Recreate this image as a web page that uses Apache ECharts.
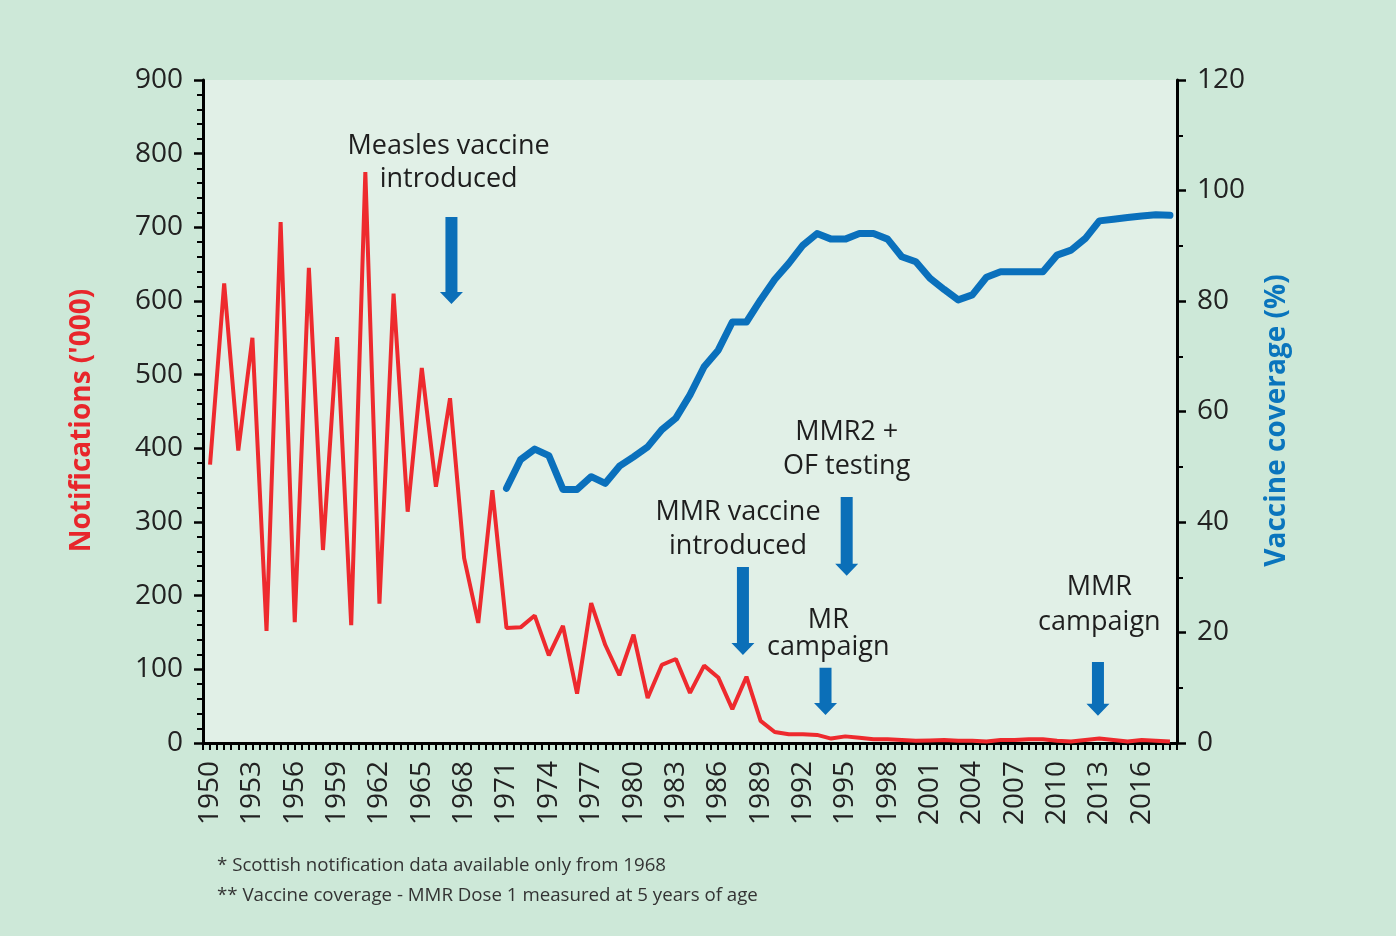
<!DOCTYPE html>
<html>
<head>
<meta charset="utf-8">
<script src="https://cdn.jsdelivr.net/npm/echarts@6/dist/echarts.min.js"></script>
<style>
  html, body { margin: 0; padding: 0; background: #cde8d8; }
  #main { width: 1396px; height: 936px; }
</style>
</head>
<body>
<div id="main"></div>
<script>
// years 1950..2018
const years = [];
for (let y = 1950; y <= 2018; y++) years.push(y);
const tickYears = years.filter(y => (y - 1950) % 3 === 0 && y <= 2016);

// notifications ('000), 1950..2018
const notifications = [
  378, 624, 397, 550, 152, 707, 164, 645, 262, 551,
  160, 775, 189, 610, 314, 509, 348, 468, 251, 163,
  343, 156, 157, 173, 119, 159, 67, 190, 133, 92,
  147, 61, 106, 114, 68, 105, 89, 46, 90, 30,
  15, 12, 12, 11, 6, 9, 7, 5, 5, 4,
  3, 3.5, 4, 3, 3, 2, 4, 4, 5, 5,
  3, 2, 4, 6, 4, 2, 4, 3, 2
];

// vaccine coverage (%), 1971..2018
const coverageYears = years.filter(y => y >= 1971);
const coverage = [
  46.1, 51.3, 53.2, 52.0, 45.9, 45.9, 48.2, 47.0, 50.1, 51.8,
  53.6, 56.7, 58.8, 63.0, 68.1, 71.1, 76.2, 76.2, 80.2, 83.9,
  86.8, 90.1, 92.2, 91.2, 91.2, 92.2, 92.2, 91.2, 88.0, 87.1,
  84.1, 82.1, 80.2, 81.1, 84.3, 85.3, 85.3, 85.3, 85.3, 88.3,
  89.2, 91.3, 94.5, 94.8, 95.1, 95.4, 95.6, 95.5
];

// annotations: arrow x (year), arrow top / tip (left axis units), text
const annoText = [
  'Measles vaccine\nintroduced',
  'MMR vaccine\nintroduced',
  'MMR2 +\nOF testing',
  'MR\ncampaign',
  'MMR\ncampaign'
];
const annoX = [1967.1, 1987.75, 1995.1, 1993.6, 2012.9];
const annoTop = [714, 239, 334, 102, 110];
const annoTip = [596, 119.5, 227, 38, 37];
const annoTextX = [1966.9, 1987.4, 1995.1, 1993.8, 2013.0];
const annoTextY = [787, 290.5, 398, 148.6, 188];
const annoLineH = [33, 34, 34, 27, 35];

const chart = echarts.init(document.getElementById('main'));
const FONT = '"Open Sans", "Noto Sans", sans-serif';

function renderArrow(params, api) {
  const i = params.dataIndex;
  const top = api.coord([api.value(0), api.value(1)]);
  const tip = api.coord([api.value(0), api.value(2)]);
  const t = api.coord([api.value(3), api.value(4)]);
  const cx = top[0];
  const sw = 6, hw = 11.5, hl = 12;
  const base = tip[1] - hl;
  return {
    type: 'group',
    children: [
      {
        type: 'polygon',
        shape: {
          points: [
            [cx - sw, top[1]], [cx + sw, top[1]], [cx + sw, base],
            [cx + hw, base], [cx, tip[1]], [cx - hw, base], [cx - sw, base]
          ]
        },
        style: { fill: '#0b6fb8' }
      },
      {
        type: 'text',
        style: {
          text: annoText[i],
          x: t[0],
          y: t[1],
          align: 'center',
          verticalAlign: 'middle',
          fontSize: 27,
          fontFamily: FONT,
          lineHeight: annoLineH[i],
          fill: '#1e1e1e'
        }
      }
    ]
  };
}

const option = {
  backgroundColor: '#cde8d8',
  animation: false,
  grid: {
    left: 203, right: 219, top: 80, bottom: 193,
    show: true, backgroundColor: '#e1f0e7', borderWidth: 0,
    outerBoundsMode: 'none'
  },
  xAxis: {
    type: 'value',
    min: 1949.5,
    max: 2018.5,
    interval: 0.5,
    splitLine: { show: false },
    axisLine: { show: true, onZero: false, lineStyle: { color: '#000', width: 3 } },
    axisTick: { show: true, length: 7, lineStyle: { color: '#000', width: 2 } },
    axisLabel: {
      rotate: 90,
      margin: 18,
      fontSize: 28,
      fontFamily: FONT,
      color: '#222',
      showMinLabel: true,
      showMaxLabel: true,
      formatter: v => tickYears.includes(v) ? String(v) : ''
    }
  },
  yAxis: [
    {
      type: 'value',
      min: 0, max: 900, interval: 100,
      position: 'left',
      name: "Notifications ('000)",
      nameLocation: 'middle',
      nameRotate: 90,
      nameGap: 107,
      nameTextStyle: {
        color: '#e8262b', fontSize: 28, fontWeight: 'bold', fontFamily: FONT,
        padding: [0, 18, 0, 0]
      },
      splitLine: { show: false },
      axisLine: { show: true, lineStyle: { color: '#000', width: 3 } },
      axisTick: { show: true, length: 9, lineStyle: { color: '#000', width: 2.5 } },
      minorTick: { show: true, splitNumber: 5, length: 6, lineStyle: { color: '#000', width: 2 } },
      axisLabel: { fontSize: 28, fontFamily: FONT, color: '#222', margin: 20 }
    },
    {
      type: 'value',
      min: 0, max: 120, interval: 20,
      position: 'right',
      name: 'Vaccine coverage (%)',
      nameLocation: 'middle',
      nameRotate: 90,
      nameGap: 86,
      nameTextStyle: {
        color: '#0a75bd', fontSize: 28, fontWeight: 'bold', fontFamily: FONT,
        padding: [0, 18, 0, 0]
      },
      splitLine: { show: false },
      axisLine: { show: true, lineStyle: { color: '#000', width: 3 } },
      axisTick: { show: true, length: 9, lineStyle: { color: '#000', width: 2.5 } },
      minorTick: { show: true, splitNumber: 2, length: 6, lineStyle: { color: '#000', width: 2 } },
      axisLabel: { fontSize: 28, fontFamily: FONT, color: '#222', margin: 20 }
    }
  ],
  series: [
    {
      name: 'Notifications',
      type: 'line',
      yAxisIndex: 0,
      data: years.map((y, i) => [y, notifications[i]]),
      symbol: 'none',
      lineStyle: { color: '#ee2a2e', width: 4 },
      z: 3
    },
    {
      name: 'Vaccine coverage',
      type: 'line',
      yAxisIndex: 1,
      data: coverageYears.map((y, i) => [y, coverage[i]]),
      symbol: 'none',
      lineStyle: { color: '#0a70bc', width: 7, cap: 'round', join: 'round' },
      z: 4
    },
    {
      name: 'Annotations',
      type: 'custom',
      yAxisIndex: 0,
      silent: true,
      clip: false,
      renderItem: renderArrow,
      data: annoX.map((x, i) => [x, annoTop[i], annoTip[i], annoTextX[i], annoTextY[i]]),
      z: 5
    }
  ],
  graphic: [
    {
      type: 'text',
      x: 217, y: 866,
      style: {
        text: '* Scottish notification data available only from 1968',
        fontSize: 18.7, fontFamily: FONT, fill: '#333', verticalAlign: 'middle'
      }
    },
    {
      type: 'text',
      x: 217, y: 896,
      style: {
        text: '** Vaccine coverage - MMR Dose 1 measured at 5 years of age',
        fontSize: 18.7, fontFamily: FONT, fill: '#333', verticalAlign: 'middle'
      }
    }
  ]
};

chart.setOption(option);
</script>
</body>
</html>
